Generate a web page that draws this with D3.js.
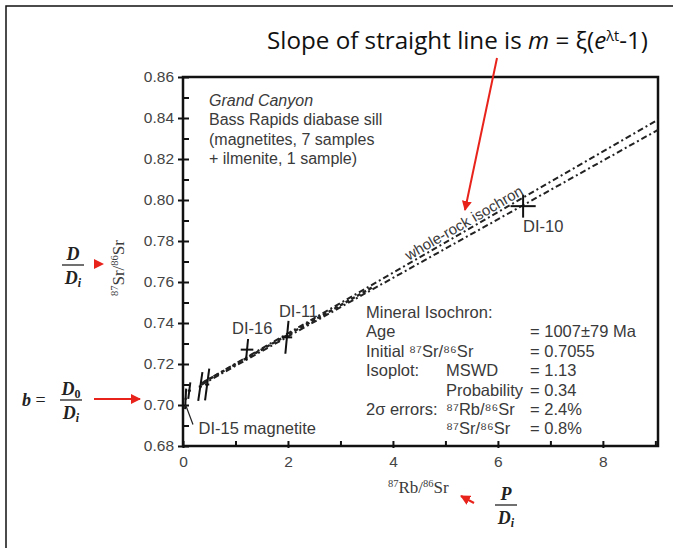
<!DOCTYPE html>
<html>
<head>
<meta charset="utf-8">
<script src="https://cdn.jsdelivr.net/npm/d3@7"></script>
<style>
  body { margin: 0; background: #fff; }
  svg { display: block; }
</style>
</head>
<body>
<svg id="chart" width="683" height="548"></svg>
<script>
// data
const xTicks = [0, 2, 4, 6, 8];
const xMinorTicks = [0, 1, 2, 3, 4, 5, 6, 7, 8, 9];
const yTicks = [0.68, 0.70, 0.72, 0.74, 0.76, 0.78, 0.80, 0.82, 0.84, 0.86];
const yMinorTicks = [0.69, 0.71, 0.73, 0.75, 0.77, 0.79, 0.81, 0.83, 0.85];

const sampleNames = ["DI-15 magnetite", "", "", "", "DI-16", "DI-11", "DI-10"];
const rbSr   = [0.05, 0.12, 0.33, 0.46, 1.22, 1.98, 6.48];
const srSr   = [0.703, 0.707, 0.709, 0.710, 0.727, 0.733, 0.797];
const rbErr  = [0.02, 0.03, 0.03, 0.04, 0.12, 0.10, 0.24];
const srErr  = [0.005, 0.004, 0.007, 0.0078, 0.0052, 0.0080, 0.0056];
const srTilt = [0.01, 0.02, 0.04, 0.04, 0.02, 0.03, 0.0];

// whole-rock isochron envelope and mineral isochron [x0, y0, x1, y1]
const wrUpper = [0.35, 0.7105, 9.05, 0.8392];
const wrLower = [0.35, 0.7098, 9.05, 0.8342];
const mineralLine = [0.4, 0.7112, 3.6, 0.7573];

const infoRows = [
  ["Mineral Isochron:", "", ""],
  ["Age", "", "= 1007±79 Ma"],
  ["Initial ⁸⁷Sr/⁸⁶Sr", "", "= 0.7055"],
  ["Isoplot:", "MSWD", "= 1.13"],
  ["", "Probability", "= 0.34"],
  ["2σ errors:", "⁸⁷Rb/⁸⁶Sr", "= 2.4%"],
  ["", "⁸⁷Sr/⁸⁶Sr", "= 0.8%"]
];
const noteLines = ["Grand Canyon", "Bass Rapids diabase sill", "(magnetites, 7 samples", "+ ilmenite, 1 sample)"];

const svg = d3.select("#chart");
const ink = "#3a3a3a";
const red = "#e8231c";
const sans = "'Liberation Sans', Arial, sans-serif";
const serif = "'Liberation Serif', 'Times New Roman', serif";
const textSize = "16.5px";

var x = d3.scaleLinear().domain([0, 9.05]).range([183, 658]);
var y = d3.scaleLinear().domain([0.68, 0.86]).range([446, 77]);

// outer frame of the figure
svg.append("path")
  .attr("d", "M6,548 L6,6 L673,6")
  .attr("fill", "none")
  .attr("stroke", "#111")
  .attr("stroke-width", 1.5);

svg.append("defs").append("marker")
  .attr("id", "arrow")
  .attr("viewBox", "0 0 10 10")
  .attr("refX", 9).attr("refY", 5)
  .attr("markerWidth", 5).attr("markerHeight", 5)
  .attr("orient", "auto")
  .append("path")
  .attr("d", "M0,0 L10,5 L0,10 Z")
  .attr("fill", red);

// axes
svg.append("g")
  .attr("transform", "translate(" + x(0) + ",0)")
  .call(d3.axisLeft(y).tickValues(yTicks).tickSize(5).tickPadding(4).tickFormat(d3.format(".2f")));
svg.append("g")
  .attr("transform", "translate(" + x(0) + ",0)")
  .call(d3.axisRight(y).tickValues(yTicks.concat(yMinorTicks)).tickSize(6).tickFormat(""));

svg.append("g")
  .attr("transform", "translate(0," + y(0.68) + ")")
  .call(d3.axisBottom(x).tickValues(xTicks).tickSize(2).tickPadding(8).tickFormat(d3.format("d")));
svg.append("g")
  .attr("transform", "translate(0," + y(0.68) + ")")
  .call(d3.axisTop(x).tickValues(xMinorTicks).tickSize(5).tickFormat(""));

svg.selectAll(".domain").remove();
svg.selectAll(".tick line").attr("stroke", "#111").attr("stroke-width", 2);
svg.selectAll(".tick text")
  .attr("fill", "#444")
  .style("font-family", sans)
  .style("font-size", "15.5px");

// plot frame
svg.append("rect")
  .attr("x", x(0)).attr("y", y(0.86))
  .attr("width", x(9.05) - x(0))
  .attr("height", y(0.68) - y(0.86))
  .attr("fill", "none")
  .attr("stroke", "#111")
  .attr("stroke-width", 2.5);

// isochron lines
[wrUpper, wrLower].forEach(function (l) {
  svg.append("line")
    .attr("x1", x(l[0])).attr("y1", y(l[1]))
    .attr("x2", x(l[2])).attr("y2", y(l[3]))
    .attr("stroke", "#222")
    .attr("stroke-width", 2)
    .attr("stroke-dasharray", "6,3,2,3");
});
svg.append("line")
  .attr("x1", x(mineralLine[0])).attr("y1", y(mineralLine[1]))
  .attr("x2", x(mineralLine[2])).attr("y2", y(mineralLine[3]))
  .attr("stroke", "#222")
  .attr("stroke-width", 2.4)
  .attr("stroke-dasharray", "4,2.5");

// label along the whole-rock isochron
var angle = Math.atan2(y(wrUpper[3]) - y(wrUpper[1]), x(wrUpper[2]) - x(wrUpper[0])) * 180 / Math.PI;
var labAt = 5.4;
var labY = wrUpper[1] + (wrUpper[3] - wrUpper[1]) * (labAt - wrUpper[0]) / (wrUpper[2] - wrUpper[0]);
svg.append("text")
  .attr("transform", "translate(" + x(labAt) + "," + (y(labY) - 3) + ") rotate(" + angle + ")")
  .attr("text-anchor", "middle")
  .attr("fill", ink)
  .style("font-family", sans)
  .style("font-size", "15px")
  .text("whole-rock isochron");

// error crosses
var pts = rbSr.map(function (v, i) {
  return { name: sampleNames[i], x: v, y: srSr[i], ex: rbErr[i], ey: srErr[i], t: srTilt[i] };
});
var cross = svg.append("g").attr("stroke", "#111").attr("stroke-width", 2);
pts.forEach(function (p) {
  cross.append("line")
    .attr("x1", x(p.x - p.ex)).attr("y1", y(p.y))
    .attr("x2", x(p.x + p.ex)).attr("y2", y(p.y));
  cross.append("line")
    .attr("x1", x(p.x - p.t)).attr("y1", y(p.y - p.ey))
    .attr("x2", x(p.x + p.t)).attr("y2", y(p.y + p.ey));
});

// sample labels
var labelShift = { "DI-10": [0, 26], "DI-11": [-8, -20], "DI-16": [-15, -16], "DI-15 magnetite": [13, 35] };
pts.filter(function (p) { return p.name; }).forEach(function (p) {
  var s = labelShift[p.name];
  svg.append("text")
    .attr("x", x(p.x) + s[0]).attr("y", y(p.y) + s[1])
    .attr("fill", ink)
    .style("font-family", sans)
    .style("font-size", textSize)
    .text(p.name);
});
// leader to DI-15
svg.append("line")
  .attr("x1", x(0.05)).attr("y1", y(0.7))
  .attr("x2", x(0.19)).attr("y2", y(0.6905))
  .attr("stroke", "#222").attr("stroke-width", 1.2);

// note at top left of plot
svg.append("g").selectAll("text")
  .data(noteLines)
  .join("text")
  .attr("x", 209)
  .attr("y", function (d, i) { return 106 + i * 19.3; })
  .attr("fill", ink)
  .style("font-family", sans)
  .style("font-size", "16px")
  .style("font-style", function (d, i) { return i === 0 ? "italic" : "normal"; })
  .text(function (d) { return d; });

// isochron info block
var info = svg.append("g")
  .attr("fill", ink)
  .style("font-family", sans)
  .style("font-size", textSize);
var colX = [366, 446, 530];
infoRows.forEach(function (row, i) {
  row.forEach(function (cell, j) {
    if (!cell) return;
    info.append("text")
      .attr("x", colX[j])
      .attr("y", 318 + i * 19.4)
      .text(cell);
  });
});

// axis titles (serif with superscripts)
function isoLabel(g, a, b, c, d) {
  var t = g.append("text").attr("fill", ink).style("font-family", serif);
  t.append("tspan").attr("font-size", "10.5px").attr("dy", "-6").text(a);
  t.append("tspan").attr("font-size", "17px").attr("dy", "6").text(b + "/");
  t.append("tspan").attr("font-size", "10.5px").attr("dy", "-6").text(c);
  t.append("tspan").attr("font-size", "17px").attr("dy", "6").text(d);
  return t;
}
isoLabel(svg.append("g").attr("transform", "translate(388,493)"), "87", "Rb", "86", "Sr");
isoLabel(svg.append("g").attr("transform", "translate(124,296) rotate(-90)"), "87", "Sr", "86", "Sr");

// title annotation, fitted to the width it has in the picture
var title = svg.append("text")
  .attr("x", 267).attr("y", 49)
  .attr("fill", "#111")
  .style("font-family", "'Open Sans', 'Noto Sans', sans-serif")
  .style("font-size", "19px");
title.append("tspan").text("Slope of straight line is ");
title.append("tspan").style("font-style", "italic").text("m");
title.append("tspan").text(" =  ξ(");
title.append("tspan").style("font-style", "italic").text("e");
title.append("tspan").attr("dy", -8).style("font-size", "0.6em").text("λt");
title.append("tspan").attr("dy", 8).text("-1)");
var tw = title.node().getComputedTextLength();
title.style("font-size", (19 * 381 / tw).toFixed(2) + "px");

svg.append("line")
  .attr("x1", 497).attr("y1", 58).attr("x2", 465).attr("y2", 210)
  .attr("stroke", red).attr("stroke-width", 2)
  .attr("marker-end", "url(#arrow)");

// fraction annotations
function fraction(cx, cy, num, den, numSub, denSub) {
  var g = svg.append("g").attr("fill", "#222")
    .style("font-family", serif).style("font-style", "italic").style("font-weight", "bold");
  var n = g.append("text").attr("x", cx).attr("y", cy - 5).attr("text-anchor", "middle").style("font-size", "18px");
  n.append("tspan").text(num);
  if (numSub) n.append("tspan").attr("font-size", "12px").attr("dy", 3).style("font-style", "normal").text(numSub);
  var d = g.append("text").attr("x", cx).attr("y", cy + 19).attr("text-anchor", "middle").style("font-size", "18px");
  d.append("tspan").text(den);
  if (denSub) d.append("tspan").attr("font-size", "12px").attr("dy", 3).text(denSub);
  g.append("line")
    .attr("x1", cx - 11).attr("x2", cx + 11)
    .attr("y1", cy).attr("y2", cy)
    .attr("stroke", "#222").attr("stroke-width", 1.3);
}
fraction(73, 265, "D", "D", "", "i");
fraction(71, 400, "D", "D", "0", "i");
fraction(506, 505, "P", "D", "", "i");

svg.append("text")
  .attr("x", 22).attr("y", 406)
  .attr("fill", "#222")
  .style("font-family", serif)
  .style("font-size", "18px")
  .html("<tspan font-style='italic' font-weight='bold'>b</tspan> =");

// red pointers
svg.append("path")
  .attr("d", "M94,259 L104,264 L94,269 Z")
  .attr("fill", red);
svg.append("line")
  .attr("x1", 94).attr("y1", 399).attr("x2", 140).attr("y2", 399)
  .attr("stroke", red).attr("stroke-width", 2)
  .attr("marker-end", "url(#arrow)");
svg.append("line")
  .attr("x1", 474).attr("y1", 503).attr("x2", 461).attr("y2", 496)
  .attr("stroke", red).attr("stroke-width", 2)
  .attr("marker-end", "url(#arrow)");
</script>
</body>
</html>
